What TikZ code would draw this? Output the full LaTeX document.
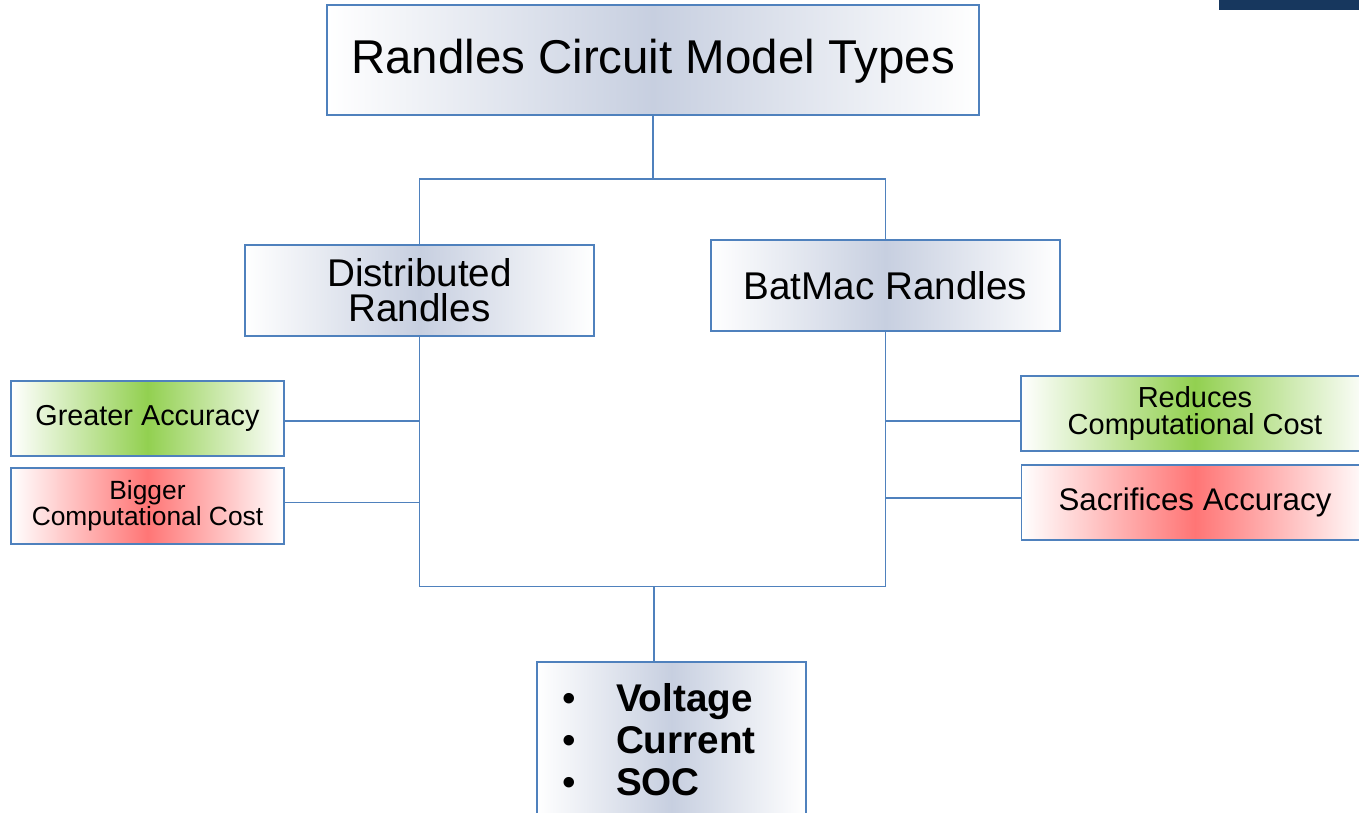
\documentclass[tikz,border=0pt]{standalone}
\usepackage{fontspec}
\setmainfont{Liberation Sans}
\usetikzlibrary{positioning}

\definecolor{linkblue}{RGB}{79,129,189}
\definecolor{boxmid}{RGB}{199,207,224}
\definecolor{goodmid}{RGB}{146,208,80}
\definecolor{badmid}{RGB}{255,117,117}
\definecolor{barblue}{RGB}{23,55,94}

\begin{document}
\begin{tikzpicture}[
        x=0.02cm, y=-0.02cm,
        box/.style={draw=linkblue, line width=1pt, align=center, inner sep=2pt,
                    left color=white, right color=white, middle color=boxmid},
        pro/.style={box, middle color=goodmid},
        con/.style={box, middle color=badmid},
        link/.style={draw=linkblue, line width=1pt}]

    % frame of the slide and the bar in the corner
    \useasboundingbox (0,0) rectangle (1359,813);
    \fill[barblue] (1219,0) rectangle (1359,10);

    % model types
    \node[box, minimum width=13.04cm, minimum height=2.2cm, text height=21pt,
          font=\fontsize{27}{30}\selectfont] (title) at (653,60) {Randles Circuit Model Types};
    \node[box, minimum width=6.98cm, minimum height=1.82cm,
          font=\fontsize{22}{20}\selectfont] (dist) at (419.5,290.5) {Distributed\\Randles};
    \node[box, minimum width=6.98cm, minimum height=1.82cm,
          font=\fontsize{22}{24}\selectfont] (batmac) at (885.5,285.5) {BatMac Randles};

    % trade-offs of each model
    \node[pro, minimum width=5.46cm, minimum height=1.5cm,
          font=\fontsize{16.4}{18}\selectfont] (greater) at (147.5,418.5) {Greater Accuracy};
    \node[con, minimum width=5.46cm, minimum height=1.52cm, below=0.2cm of greater,
          font=\fontsize{15}{14.7}\selectfont] (bigger) {Bigger\\Computational Cost};
    \node[pro, minimum width=6.96cm, minimum height=1.5cm,
          font=\fontsize{16.5}{15.5}\selectfont] (reduces) at (1195,413.5) {Reduces\\Computational Cost};
    \node[con, minimum width=6.94cm, minimum height=1.5cm, below=0.24cm of reduces,
          font=\fontsize{17.8}{20}\selectfont] (sacrifices) {Sacrifices Accuracy};

    % outputs
    \node[box, minimum width=5.38cm, minimum height=3.12cm, text width=4.38cm, inner xsep=0.5cm,
          align=left, font=\fontsize{22}{24}\selectfont] (signals) at (671.5,740)
          {\makebox[1.08cm][l]{\textbullet}\textbf{Voltage}\\
           \makebox[1.08cm][l]{\textbullet}\textbf{Current}\\
           \makebox[1.08cm][l]{\textbullet}\textbf{SOC}};

    % tree connectors
    \coordinate (topbus) at (653,179);
    \coordinate (botbus) at (654,586.5);
    \draw[link] (title.south) -- (topbus);
    \draw[link] (dist.north) |- (topbus) -| (batmac.north);
    \draw[link] (dist.south) |- (botbus) -| (batmac.south);
    \draw[link] (botbus) -- (botbus |- signals.north);

    % branches to the trade-offs
    \draw[link] ([yshift=-1.4pt]greater.east) -- ([yshift=-1.4pt]greater.east -| dist.south);
    \draw[link] ([yshift=1.9pt]bigger.east) -- ([yshift=1.9pt]bigger.east -| dist.south);
    \draw[link] ([yshift=-4.2pt]reduces.west) -- ([yshift=-4.2pt]reduces.west -| batmac.south);
    \draw[link] ([yshift=2.2pt]sacrifices.west) -- ([yshift=2.2pt]sacrifices.west -| batmac.south);
\end{tikzpicture}
\end{document}
